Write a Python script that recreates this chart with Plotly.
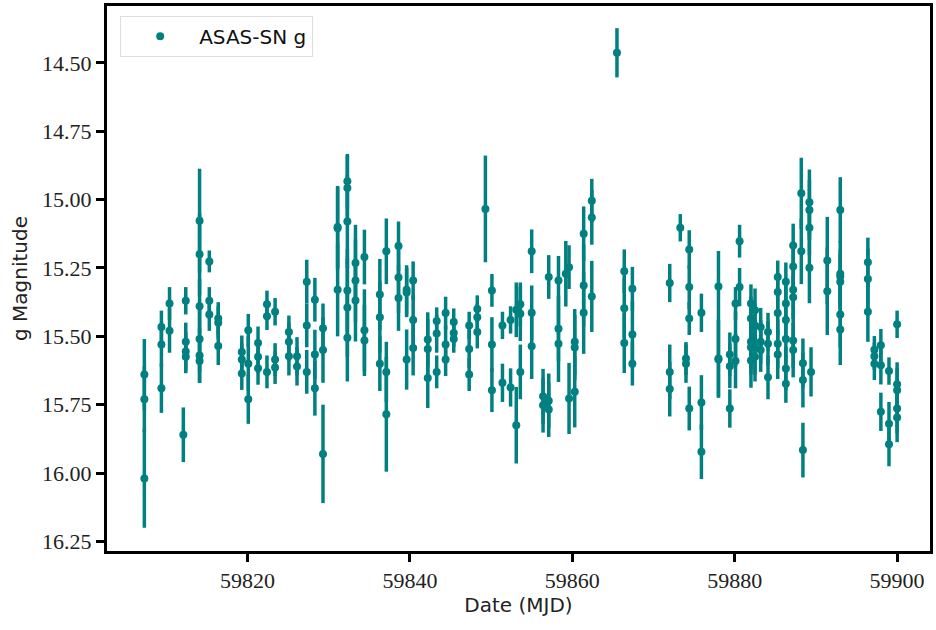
import plotly.graph_objects as go

# (MJD, g magnitude, error)
mjd = [
    59807.3, 59807.3, 59807.3,
    59809.4, 59809.4, 59809.4,
    59810.4, 59810.4,
    59812.1,
    59812.4, 59812.4, 59812.4, 59812.4,
    59814.1, 59814.1, 59814.1, 59814.1, 59814.1, 59814.1,
    59815.3, 59815.3, 59815.3,
    59816.4, 59816.4, 59816.4,
    59819.3, 59819.3, 59819.3,
    59820.1, 59820.1, 59820.1,
    59821.3, 59821.3, 59821.3,
    59822.4, 59822.4, 59822.4,
    59823.4, 59823.4, 59823.4,
    59825.1, 59825.1, 59825.1,
    59826.1, 59826.1,
    59827.3, 59827.3, 59827.3,
    59828.3, 59828.3, 59828.3,
    59829.3, 59829.3, 59829.3,
    59831.1, 59831.1, 59831.1,
    59832.3, 59832.3, 59832.3, 59832.3, 59832.3, 59832.3,
    59833.3, 59833.3, 59833.3,
    59834.4, 59834.4, 59834.4,
    59836.3, 59836.3, 59836.3,
    59837.1, 59837.1, 59837.1,
    59838.6, 59838.6, 59838.6,
    59839.6, 59839.6, 59839.6,
    59840.4, 59840.4, 59840.4,
    59842.2, 59842.2, 59842.2,
    59843.3, 59843.3, 59843.3,
    59844.4, 59844.4, 59844.4,
    59845.4, 59845.4, 59845.4,
    59847.3, 59847.3, 59847.3,
    59848.3, 59848.3, 59848.3,
    59849.3,
    59850.1, 59850.1, 59850.1,
    59851.4, 59851.4,
    59852.4, 59852.4,
    59853.1, 59853.1,
    59853.6, 59853.6, 59853.6,
    59855.0, 59855.0, 59855.0,
    59856.4, 59856.4,
    59857.1, 59857.1, 59857.1,
    59858.3, 59858.3, 59858.3,
    59859.2,
    59859.6, 59859.6,
    59860.3, 59860.3, 59860.3,
    59861.4, 59861.4, 59861.4,
    59862.4, 59862.4, 59862.4,
    59865.5,
    59866.4, 59866.4, 59866.4,
    59867.4, 59867.4, 59867.4,
    59872.0, 59872.0, 59872.0,
    59873.3,
    59874.0, 59874.0,
    59874.4, 59874.4, 59874.4, 59874.4,
    59875.9, 59875.9, 59875.9,
    59878.0, 59878.0, 59878.0,
    59879.4, 59879.4, 59879.4,
    59880.1, 59880.1, 59880.1,
    59880.6, 59880.6,
    59882.0, 59882.0, 59882.0, 59882.0, 59882.0,
    59882.5, 59882.5, 59882.5, 59882.5,
    59883.2, 59883.2, 59883.2,
    59884.1, 59884.1, 59884.1,
    59885.3, 59885.3, 59885.3, 59885.3, 59885.3,
    59886.3, 59886.3, 59886.3, 59886.3, 59886.3, 59886.3,
    59887.2, 59887.2, 59887.2, 59887.2, 59887.2, 59887.2,
    59888.2, 59888.2,
    59888.4, 59888.4, 59888.4,
    59889.2, 59889.2, 59889.2, 59889.2,
    59889.4,
    59891.4, 59891.4,
    59893.0, 59893.0, 59893.0, 59893.0, 59893.0, 59893.0,
    59896.4, 59896.4, 59896.4,
    59897.2, 59897.2, 59897.2,
    59898.0, 59898.0, 59898.0,
    59899.0, 59899.0, 59899.0,
    59900.0, 59900.0, 59900.0, 59900.0, 59900.0,
]

gmag = [
    15.64, 15.73, 16.02,
    15.466, 15.53, 15.69,
    15.38, 15.48,
    15.86,
    15.37, 15.52, 15.555, 15.575,
    15.077, 15.20, 15.39, 15.51, 15.57, 15.59,
    15.226, 15.37, 15.42,
    15.435, 15.45, 15.535,
    15.557, 15.585, 15.636,
    15.478, 15.60, 15.73,
    15.524, 15.575, 15.617,
    15.383, 15.427, 15.63,
    15.41, 15.585, 15.614,
    15.484, 15.52, 15.573,
    15.573, 15.61,
    15.30, 15.46, 15.63,
    15.366, 15.566, 15.69,
    15.47, 15.55, 15.93,
    15.10, 15.105, 15.33,
    14.933, 14.958, 15.08, 15.332, 15.395, 15.505,
    15.232, 15.296, 15.369,
    15.21, 15.478, 15.515,
    15.347, 15.43, 15.60,
    15.189, 15.63, 15.785,
    15.17, 15.285, 15.36,
    15.33, 15.34, 15.585,
    15.296, 15.44, 15.543,
    15.512, 15.546, 15.652,
    15.444, 15.49, 15.63,
    15.415, 15.53, 15.585,
    15.448, 15.488, 15.51,
    15.46, 15.546, 15.64,
    15.40, 15.43, 15.484,
    15.034,
    15.332, 15.53, 15.697,
    15.46, 15.67,
    15.44, 15.687,
    15.403, 15.825,
    15.383, 15.417, 15.63,
    15.189, 15.414, 15.536,
    15.719, 15.752,
    15.283, 15.736, 15.768,
    15.296, 15.472, 15.527,
    15.271,
    15.247, 15.727,
    15.52, 15.541, 15.703,
    15.125, 15.314, 15.414,
    15.004, 15.065, 15.354,
    14.463,
    15.262, 15.397, 15.524,
    15.326, 15.493, 15.60,
    15.305, 15.63, 15.693,
    15.103,
    15.581, 15.60,
    15.182, 15.32, 15.435, 15.764,
    15.414, 15.742, 15.922,
    15.318, 15.581, 15.585,
    15.566, 15.609, 15.764,
    15.38, 15.51, 15.59,
    15.152, 15.32,
    15.38, 15.435, 15.52, 15.54, 15.588,
    15.405, 15.46, 15.54, 15.575,
    15.466, 15.52, 15.55,
    15.484, 15.527, 15.65,
    15.283, 15.338, 15.415, 15.527, 15.566,
    15.30, 15.38, 15.44, 15.51, 15.618, 15.673,
    15.168, 15.245, 15.33, 15.357, 15.515, 15.55,
    14.977, 15.189,
    15.598, 15.66, 15.916,
    15.01, 15.038, 15.103, 15.249,
    15.63,
    15.223, 15.335,
    15.038, 15.271, 15.281, 15.30, 15.42, 15.475,
    15.229, 15.29, 15.41,
    15.549, 15.573, 15.60,
    15.533, 15.606, 15.776,
    15.627, 15.82, 15.895,
    15.456, 15.675, 15.697, 15.764, 15.797,
]

gerr = [
    0.13, 0.12, 0.18,
    0.06, 0.08, 0.09,
    0.06, 0.08,
    0.10,
    0.05, 0.07, 0.07, 0.06,
    0.19, 0.15, 0.10, 0.12, 0.10, 0.08,
    0.04, 0.05, 0.06,
    0.06, 0.06, 0.07,
    0.06, 0.06, 0.06,
    0.06, 0.10, 0.09,
    0.06, 0.06, 0.06,
    0.05, 0.05, 0.06,
    0.05, 0.06, 0.06,
    0.06, 0.07, 0.07,
    0.07, 0.07,
    0.08, 0.08, 0.08,
    0.08, 0.09, 0.10,
    0.09, 0.12, 0.18,
    0.15, 0.15, 0.17,
    0.10, 0.12, 0.17, 0.15, 0.18, 0.16,
    0.14, 0.15, 0.15,
    0.10, 0.15, 0.13,
    0.13, 0.13, 0.10,
    0.12, 0.11, 0.21,
    0.09, 0.13, 0.12,
    0.09, 0.09, 0.11,
    0.07, 0.09, 0.10,
    0.10, 0.11, 0.11,
    0.05, 0.07, 0.06,
    0.06, 0.07, 0.06,
    0.05, 0.05, 0.05,
    0.05, 0.07, 0.06,
    0.05, 0.05, 0.06,
    0.195,
    0.06, 0.10, 0.08,
    0.05, 0.07,
    0.05, 0.07,
    0.10, 0.14,
    0.08, 0.10, 0.10,
    0.08, 0.10, 0.12,
    0.10, 0.10,
    0.08, 0.10, 0.10,
    0.09, 0.12, 0.14,
    0.12,
    0.08, 0.13,
    0.12, 0.12, 0.13,
    0.10, 0.15, 0.15,
    0.08, 0.10, 0.13,
    0.09,
    0.08, 0.11, 0.11,
    0.08, 0.12, 0.08,
    0.07, 0.10, 0.10,
    0.05,
    0.06, 0.07,
    0.07, 0.08, 0.06, 0.08,
    0.07, 0.10, 0.10,
    0.13, 0.14, 0.14,
    0.08, 0.08, 0.07,
    0.06, 0.10, 0.10,
    0.06, 0.07,
    0.07, 0.08, 0.10, 0.10, 0.10,
    0.08, 0.08, 0.10, 0.09,
    0.07, 0.08, 0.08,
    0.07, 0.08, 0.08,
    0.06, 0.07, 0.08, 0.09, 0.09,
    0.07, 0.08, 0.08, 0.09, 0.08, 0.07,
    0.08, 0.09, 0.09, 0.08, 0.10, 0.10,
    0.13, 0.12,
    0.09, 0.10, 0.10,
    0.12, 0.11, 0.10, 0.13,
    0.09,
    0.16, 0.16,
    0.12, 0.12, 0.10, 0.10, 0.12, 0.13,
    0.09, 0.11, 0.11,
    0.05, 0.05, 0.06,
    0.06, 0.07, 0.07,
    0.05, 0.08, 0.08,
    0.05, 0.08, 0.08, 0.09, 0.09,
]

x_ticks = [59820, 59840, 59860, 59880, 59900]
y_ticks = [14.50, 14.75, 15.00, 15.25, 15.50, 15.75, 16.00, 16.25]

TEAL = "#008080"

fig = go.Figure()
fig.add_trace(go.Scatter(
    x=mjd, y=gmag, mode="markers", name="ASAS-SN g",
    marker=dict(color=TEAL, size=8),
    error_y=dict(type="data", array=gerr, visible=True, color=TEAL,
                 thickness=3.5, width=0),
))

axis_common = dict(
    showline=True, linecolor="black", linewidth=3, mirror=True,
    ticks="outside", ticklen=8, tickwidth=3, tickcolor="black",
    showgrid=False, zeroline=False,
    tickfont=dict(family="Liberation Serif", size=22, color="#222"),
    title_font=dict(family="DejaVu Sans", size=20, color="#222"),
)

fig.update_layout(
    width=936, height=630,
    margin=dict(l=107, r=3, t=5, b=79),
    paper_bgcolor="white", plot_bgcolor="white",
    showlegend=True,
    legend=dict(
        x=0.016, y=0.982, xanchor="left", yanchor="top",
        bgcolor="white", bordercolor="#dddddd", borderwidth=1,
        font=dict(family="DejaVu Sans", size=20, color="#111"),
        itemwidth=68,
    ),
    xaxis=dict(
        range=[59802.7, 59904.05], tickvals=x_ticks,
        ticktext=[str(v) for v in x_ticks],
        title=dict(text="Date (MJD)", standoff=6),
        **axis_common,
    ),
    yaxis=dict(
        range=[16.285, 14.292], tickvals=y_ticks,
        ticktext=[f"{v:.2f}" for v in y_ticks],
        title=dict(text="g Magnitude", standoff=10),
        **axis_common,
    ),
)

fig.write_html("out.html")
